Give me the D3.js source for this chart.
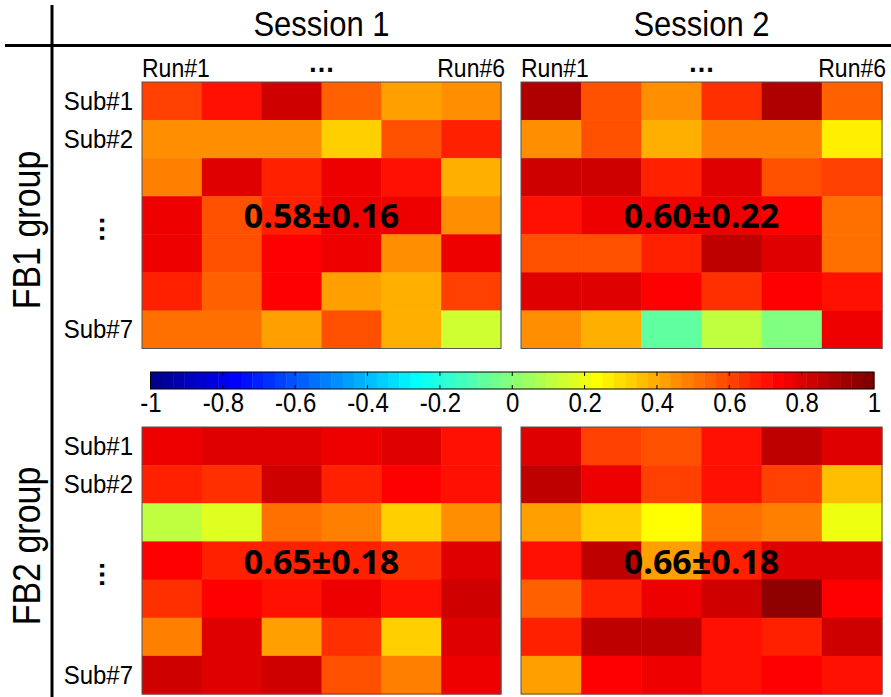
<!DOCTYPE html>
<html>
<head>
<meta charset="utf-8">
<script src="https://cdn.jsdelivr.net/npm/d3@7"></script>
<style>
  html, body { margin: 0; padding: 0; background: #fff; }
  svg { display: block; }
  text { font-family: "Liberation Sans", Arial, Helvetica, sans-serif; fill: #000; }
</style>
</head>
<body>
<svg id="chart" width="891" height="697"></svg>
<script>
// ---- data -------------------------------------------------------------
const sessions = ["Session 1", "Session 2"];
const groups = ["FB1 group", "FB2 group"];
const runs = ["Run#1", "Run#2", "Run#3", "Run#4", "Run#5", "Run#6"];
const subjects = ["Sub#1", "Sub#2", "Sub#3", "Sub#4", "Sub#5", "Sub#6", "Sub#7"];
const shownRunLabels = ["Run#1", "Run#6"];
const shownSubLabels = ["Sub#1", "Sub#2", "Sub#7"];
const colorbarTicks = [-1, -0.8, -0.6, -0.4, -0.2, 0, 0.2, 0.4, 0.6, 0.8, 1];

// correlation per subject (row) and run (column)
const fb1Session1 = [
  [0.61, 0.70, 0.83, 0.55, 0.42, 0.45],
  [0.45, 0.45, 0.45, 0.33, 0.58, 0.67],
  [0.48, 0.80, 0.67, 0.77, 0.70, 0.39],
  [0.77, 0.58, 0.67, 0.77, 0.77, 0.45],
  [0.77, 0.58, 0.73, 0.77, 0.45, 0.77],
  [0.67, 0.55, 0.73, 0.42, 0.39, 0.61],
  [0.52, 0.52, 0.42, 0.58, 0.39, 0.14]
];
const fb1Session2 = [
  [0.89, 0.58, 0.45, 0.64, 0.89, 0.55],
  [0.45, 0.58, 0.39, 0.48, 0.48, 0.27],
  [0.83, 0.83, 0.67, 0.80, 0.58, 0.61],
  [0.70, 0.77, 0.77, 0.77, 0.73, 0.52],
  [0.58, 0.58, 0.67, 0.86, 0.80, 0.52],
  [0.80, 0.80, 0.73, 0.64, 0.73, 0.70],
  [0.45, 0.39, -0.08, 0.11, -0.02, 0.77]
];
const fb2Session1 = [
  [0.77, 0.80, 0.80, 0.77, 0.80, 0.70],
  [0.67, 0.64, 0.83, 0.67, 0.73, 0.70],
  [0.11, 0.17, 0.52, 0.48, 0.33, 0.45],
  [0.73, 0.67, 0.67, 0.67, 0.64, 0.80],
  [0.64, 0.73, 0.70, 0.77, 0.70, 0.83],
  [0.48, 0.80, 0.42, 0.64, 0.33, 0.80],
  [0.83, 0.80, 0.83, 0.58, 0.48, 0.77]
];
const fb2Session2 = [
  [0.80, 0.61, 0.58, 0.70, 0.86, 0.80],
  [0.86, 0.77, 0.61, 0.70, 0.61, 0.36],
  [0.42, 0.33, 0.23, 0.52, 0.48, 0.20],
  [0.70, 0.86, 0.42, 0.67, 0.80, 0.80],
  [0.55, 0.67, 0.77, 0.83, 0.95, 0.73],
  [0.67, 0.86, 0.86, 0.70, 0.67, 0.83],
  [0.42, 0.73, 0.77, 0.70, 0.73, 0.70]
];
const panelStats = ["0.58\u00B10.16", "0.60\u00B10.22", "0.65\u00B10.18", "0.66\u00B10.18"];

// ---- 64-level jet colour map ---------------------------------------
function jetColors(m) {
  const n = Math.ceil(m / 4);
  const u = [];
  for (let k = 1; k <= n; k++) u.push(k / n);
  for (let k = 1; k < n; k++) u.push(1);
  for (let k = n; k >= 1; k--) u.push(k / n);
  const gStart = Math.ceil(n / 2) - (m % 4 === 1 ? 1 : 0);
  const r = new Array(m).fill(0), g = new Array(m).fill(0), b = new Array(m).fill(0);
  u.forEach((val, k) => {
    const gi = gStart + k;          // 0-based index
    const ri = gi + n, bi = gi - n;
    if (gi >= 0 && gi < m) g[gi] = val;
    if (ri >= 0 && ri < m) r[ri] = val;
    if (bi >= 0 && bi < m) b[bi] = val;
  });
  return d3.range(m).map(i => d3.rgb(Math.round(r[i] * 255), Math.round(g[i] * 255), Math.round(b[i] * 255)).formatHex());
}
const jet = jetColors(64);
const color = d3.scaleQuantize().domain([-1, 1]).range(jet);

// ---- layout ------------------------------------------------------------
const svg = d3.select("#chart");
const colSpans = [[142, 501], [521, 882]];
const rowSpans = [[82, 348.5], [427, 694]];
const matrices = [[fb1Session1, fb1Session2], [fb2Session1, fb2Session2]];

// text drawn slightly taller than the stock font proportions
function label(parent, x, y, str, size, opts = {}) {
  const sy = opts.sy || 1.15, rot = opts.rotate || 0;
  return parent.append("text")
    .attr("transform", `translate(${x},${y}) rotate(${rot}) scale(1,${sy})`)
    .attr("text-anchor", opts.anchor || "start")
    .attr("font-size", size)
    .attr("font-weight", opts.weight || "normal")
    .text(str);
}

// frame lines
svg.append("line").attr("x1", 52).attr("x2", 52).attr("y1", 5).attr("y2", 697)
  .attr("stroke", "#000").attr("stroke-width", 3);
svg.append("line").attr("x1", 5).attr("x2", 891).attr("y1", 45.5).attr("y2", 45.5)
  .attr("stroke", "#000").attr("stroke-width", 3);

// session titles
sessions.forEach((s, j) => {
  label(svg, (colSpans[j][0] + colSpans[j][1]) / 2, 36, s, 31, { anchor: "middle", sy: 1.12 });
});

// group titles
const groupCenters = [230, 546];
groups.forEach((g, i) => {
  label(svg, 40, groupCenters[i], g, 34, { anchor: "middle", rotate: -90, sy: 1.12 });
});

groups.forEach((g, gi) => {
  sessions.forEach((s, si) => {
    const x = d3.scaleBand().domain(runs).range(colSpans[si]);
    const y = d3.scaleBand().domain(subjects).range(rowSpans[gi]);
    const data = matrices[gi][si];
    const cells = [];
    data.forEach((row, r) => row.forEach((v, c) => cells.push({ sub: subjects[r], run: runs[c], v })));

    const p = svg.append("g");
    p.selectAll("rect.cell").data(cells).join("rect")
      .attr("class", "cell")
      .attr("x", d => x(d.run)).attr("y", d => y(d.sub))
      .attr("width", x.bandwidth() + 0.5).attr("height", y.bandwidth() + 0.5)
      .attr("fill", d => color(d.v));
    p.append("rect")
      .attr("x", colSpans[si][0]).attr("y", rowSpans[gi][0])
      .attr("width", colSpans[si][1] - colSpans[si][0])
      .attr("height", rowSpans[gi][1] - rowSpans[gi][0])
      .attr("fill", "none").attr("stroke", "#555").attr("stroke-width", 1);

    // mean ± sd annotation
    p.append("text")
      .attr("x", (colSpans[si][0] + colSpans[si][1]) / 2)
      .attr("y", y("Sub#4") + y.bandwidth() / 2 + 13)
      .attr("text-anchor", "middle")
      .style("font-family", "'Open Sans', 'Noto Sans', sans-serif")
      .attr("font-weight", "bold").attr("font-size", 34)
      .text(panelStats[gi * 2 + si]);

    // run labels (top row only)
    if (gi === 0) {
      label(p, x("Run#1"), 77, shownRunLabels[0], 23);
      label(p, x("Run#6") + x.bandwidth() + 4, 77, shownRunLabels[1], 23, { anchor: "end" });
      p.append("text").attr("x", (colSpans[si][0] + colSpans[si][1]) / 2).attr("y", 72)
        .attr("text-anchor", "middle").attr("font-size", 27).attr("font-weight", "bold")
        .text("\u2026");
    }

    // subject labels (left column only)
    if (si === 0) {
      shownSubLabels.forEach(lbl => {
        label(p, 133, y(lbl) + y.bandwidth() / 2 + 9, lbl, 24, { anchor: "end", sy: 1.05 });
      });
      const cy = y("Sub#4") + y.bandwidth() / 2 + 14;
      p.append("text")
        .attr("transform", `translate(100,${cy}) rotate(90)`)
        .attr("text-anchor", "middle").attr("font-size", 27).attr("font-weight", "bold")
        .text("\u2026");
    }
  });
});

// ---- colour bar -------------------------------------------------------
const cbX = d3.scaleLinear().domain([-1, 1]).range([150.5, 874]);
const cbY0 = 372, cbH = 17;
const steps = d3.range(64).map(i => -1 + i * 2 / 64);
svg.append("g").selectAll("rect").data(steps).join("rect")
  .attr("x", d => cbX(d)).attr("y", cbY0)
  .attr("width", cbX(-1 + 2 / 64) - cbX(-1) + 0.4).attr("height", cbH)
  .attr("fill", d => color(d + 1 / 64));
svg.append("rect").attr("x", cbX(-1)).attr("y", cbY0)
  .attr("width", cbX(1) - cbX(-1)).attr("height", cbH)
  .attr("fill", "none").attr("stroke", "#000").attr("stroke-width", 1);

const tickG = svg.append("g");
colorbarTicks.forEach(t => {
  if (t > -1 && t < 1) {
    tickG.append("line").attr("x1", cbX(t)).attr("x2", cbX(t)).attr("y1", cbY0).attr("y2", cbY0 + 4)
      .attr("stroke", "#000").attr("stroke-width", 1);
    tickG.append("line").attr("x1", cbX(t)).attr("x2", cbX(t)).attr("y1", cbY0 + cbH - 4).attr("y2", cbY0 + cbH)
      .attr("stroke", "#000").attr("stroke-width", 1);
  }
});
const cbAxis = d3.axisBottom(cbX).tickValues(colorbarTicks).tickSize(0).tickPadding(0)
  .tickFormat(d => d3.format("")(d).replace("\u2212", "-"));
const ax = svg.append("g").attr("transform", `translate(0,${cbY0 + cbH})`).call(cbAxis);
ax.select(".domain").remove();
ax.selectAll("text")
  .attr("font-size", 24).attr("dy", null).attr("y", null)
  .attr("transform", "translate(0,23) scale(1,1.15)")
  .style("font-family", "'Liberation Sans', Arial, sans-serif").attr("fill", "#000");
</script>
</body>
</html>
